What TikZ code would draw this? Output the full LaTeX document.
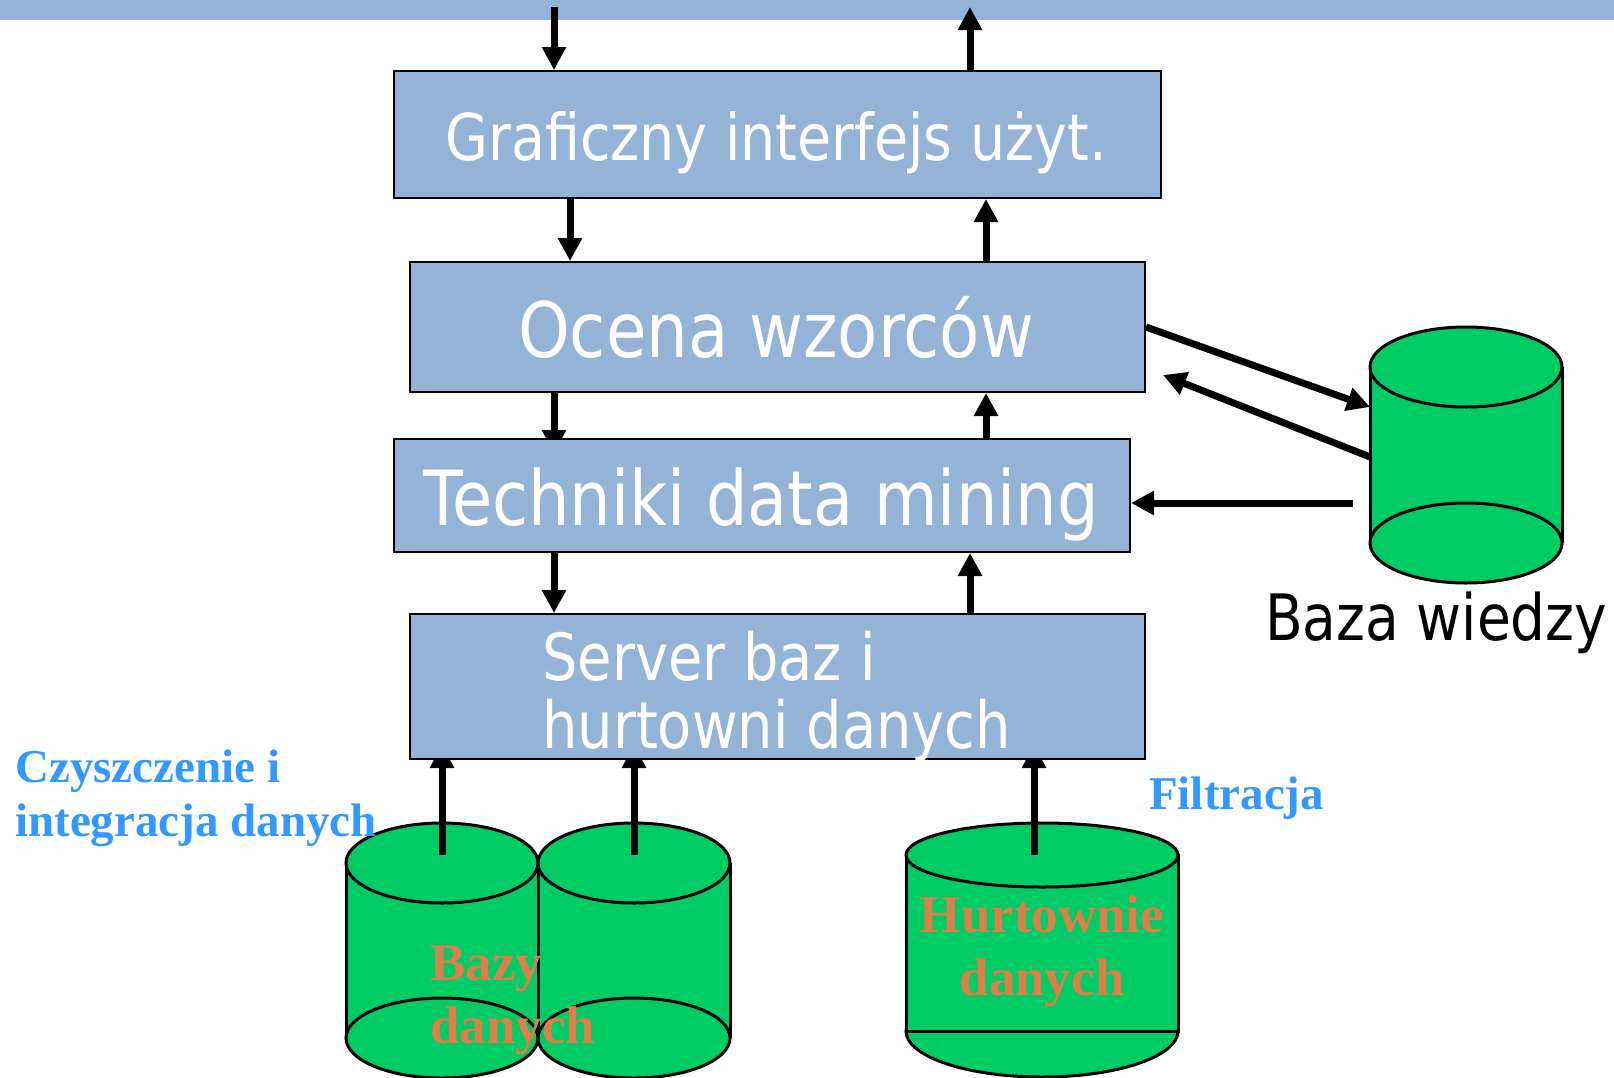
\documentclass[tikz,border=0pt]{standalone}
\usepackage{fontspec}
\setmainfont{Liberation Serif}
\newfontfamily\panelfont[FakeStretch=0.86]{DejaVu Sans}
\usetikzlibrary{arrows.meta,calc}
\pgfdeclarelayer{back}
\pgfdeclarelayer{links}
\pgfsetlayers{back,links,main}
\definecolor{panelblue}{RGB}{149,179,215}
\definecolor{cangreen}{RGB}{0,204,102}
\definecolor{notebl}{RGB}{51,153,255}
\definecolor{canlabel}{RGB}{219,128,74}

\begin{document}
\begin{tikzpicture}[x=1pt,y=-1pt,
  stage/.style={draw=black, line width=2pt, fill=panelblue, inner sep=0pt},
  stagetext/.style={text=white, inner sep=0pt, anchor=base},
  flow/.style={line width=7pt, -{Triangle[length=23pt,width=23pt]}},
  canline/.style={draw=black, line width=3pt},
  canbox/.style={inner sep=0pt, outer sep=0pt},
  note/.style={text=notebl, inner sep=0pt, anchor=base west, font=\fontsize{47}{54}\selectfont\bfseries},
  canname/.style={text=canlabel, inner sep=0pt, font=\fontsize{53}{63}\selectfont\bfseries},
]
\useasboundingbox (0,0) rectangle (1614,1077);

% processing stages
\node[stage, minimum width=767pt, minimum height=127pt] (gui)  at (777.5,134.5) {};
\node[stage, minimum width=735pt, minimum height=130pt] (eval) at (777.5,327) {};
\node[stage, minimum width=736pt, minimum height=113pt] (mine) at (762,495.5) {};
\node[stage, minimum width=735pt, minimum height=145pt] (srv)  at (777.5,686.5) {};

\node[stagetext, font=\panelfont\fontsize{64.5}{70}\selectfont] (gui-t)  at (776,160) {Graficzny interfejs użyt.};
\node[stagetext, font=\panelfont\fontsize{76.5}{80}\selectfont] (eval-t) at (776,357) {Ocena wzorców};
\node[stagetext, font=\panelfont\fontsize{76}{80}\selectfont]   (mine-t) at (761,525) {Techniki data mining};
\node[stagetext, anchor=base west, font=\panelfont\fontsize{65}{68}\selectfont] (srv-t1) at (542,680) {Server baz i};
\node[stagetext, anchor=base west, font=\panelfont\fontsize{65}{68}\selectfont] (srv-t2) at (542,748) {hurtowni danych};

% data stores
\begin{pgfonlayer}{back}
  \fill[white] (0,0) rectangle (1614,1077);
  \fill[panelblue] (0,0) rectangle (1614,20);

  % knowledge base
  \node[canbox, minimum width=192pt, minimum height=176pt] (kb) at (1466,455) {};
  \fill[cangreen] (1370,367) rectangle (1562,543);
  \draw[canline] (1370,367) -- (1370,543) (1562,367) -- (1562,543);
  \filldraw[canline, fill=cangreen] (1466,543) ellipse [x radius=96pt, y radius=40pt];
  \filldraw[canline, fill=cangreen] (1466,367) ellipse [x radius=96pt, y radius=40pt];

  % databases
  \node[canbox, minimum width=192pt, minimum height=175pt] (dbA) at (442,950.5) {};
  \fill[cangreen] (346,863) rectangle (538,1038);
  \draw[canline] (346,863) -- (346,1038) (538,863) -- (538,1038);
  \filldraw[canline, fill=cangreen] (442,1038) ellipse [x radius=96pt, y radius=40pt];
  \filldraw[canline, fill=cangreen] (442,863) ellipse [x radius=96pt, y radius=40pt];

  \node[canbox, minimum width=192pt, minimum height=175pt] (dbB) at (634,950.5) {};
  \fill[cangreen] (538,863) rectangle (730,1038);
  \draw[canline] (538,863) -- (538,1038) (730,863) -- (730,1038);
  \filldraw[canline, fill=cangreen] (634,1038) ellipse [x radius=96pt, y radius=40pt];
  \filldraw[canline, fill=cangreen] (634,863) ellipse [x radius=96pt, y radius=40pt];

  % data warehouse
  \node[canbox, minimum width=272pt, minimum height=176pt] (dbC) at (1042,943) {};
  \filldraw[canline, fill=cangreen] (1042,1031) ellipse [x radius=136pt, y radius=46pt];
  \filldraw[canline, fill=cangreen] (906,855) rectangle (1178,1031);
  \filldraw[canline, fill=cangreen] (1042,855) ellipse [x radius=136pt, y radius=32pt];
\end{pgfonlayer}

\node[text=black, inner sep=0pt, anchor=base west, font=\panelfont\fontsize{64}{68}\selectfont] (kb-t) at (1265,640) {Baza wiedzy};

\node[canname, anchor=base west] (dbA-t1) at (430,980) {Bazy};
\node[canname, anchor=base west] (dbA-t2) at (430,1043) {danych};
\node[canname, anchor=base] (dbC-t1) at (1042,932) {Hurtownie};
\node[canname, anchor=base] (dbC-t2) at (1042,995) {danych};

\node[note] (clean-t1) at (15,782) {Czyszczenie i};
\node[note] (clean-t2) at (15,836) {integracja danych};
\node[note] (filt-t) at (1149,809) {Filtracja};

% connectors
\coordinate (c1) at (554,0);
\coordinate (c2) at (570,0);
\coordinate (c3) at (970,0);
\coordinate (c4) at (986,0);
\coordinate (fromuser) at (554,7);
\coordinate (touser) at (970,7);
\coordinate (kbback) at (1163,375);
\coordinate (kbfeed) at (1353,503);

\begin{pgfonlayer}{links}
  \draw[flow] (fromuser) -- (fromuser |- gui.north);
  \draw[flow] (touser |- gui.north) -- (touser);

  \draw[flow] (c2 |- gui.south) -- (c2 |- eval.north);
  \draw[flow] (c4 |- eval.north) -- (c4 |- gui.south);

  \draw[flow] (c1 |- eval.south) -- ($(c1 |- mine.north)+(0,15)$);
  \draw[flow] (c4 |- mine.north) -- (c4 |- eval.south);

  \draw[flow] (c1 |- mine.south) -- (c1 |- srv.north);
  \draw[flow] (c3 |- srv.north) -- (c3 |- mine.south);

  \draw[flow] ([yshift=8pt]dbA.north) -- ($(dbA.north |- srv.south)+(0,-15)$);
  \draw[flow] ([yshift=8pt]dbB.north) -- ($(dbB.north |- srv.south)+(0,-15)$);
  \draw[flow] ([xshift=-8pt]dbC.north) -- ($([xshift=-8pt]dbC.north |- srv.south)+(0,-15)$);

  \draw[flow] (eval.east) -- ([yshift=-40pt]kb.north west);
  \draw[flow] ([yshift=-90pt]kb.north west) -- (kbback);
  \draw[flow] (kbfeed) -- (kbfeed -| mine.east);
\end{pgfonlayer}
\end{tikzpicture}
\end{document}
